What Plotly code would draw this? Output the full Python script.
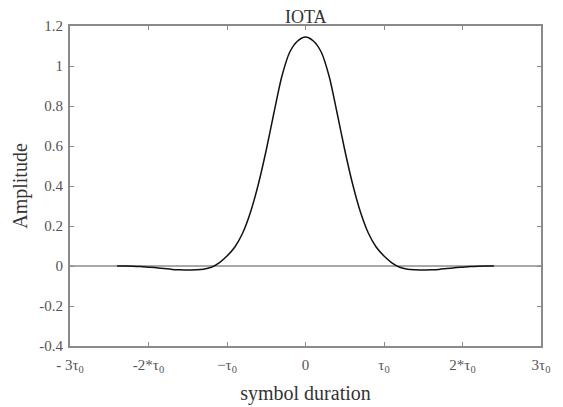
import plotly.graph_objects as go

# time in units of tau_0, amplitude (symmetric pulse)
t_right = [0.0, 0.1, 0.2, 0.3, 0.4, 0.5, 0.6, 0.7, 0.8, 0.9, 1.0, 1.1, 1.2, 1.3, 1.4, 1.5,
           1.6, 1.7, 1.8, 1.9, 2.0, 2.1, 2.2, 2.3, 2.4]
a_right = [1.145, 1.125, 1.07, 0.95, 0.77, 0.58, 0.41, 0.27, 0.165, 0.095, 0.05, 0.016, -0.006,
           -0.016, -0.019, -0.02, -0.019, -0.017, -0.013, -0.009, -0.006, -0.003, -0.001, 0.0, 0.0]

t_vals = [-v for v in t_right[:0:-1]] + t_right
a_vals = a_right[:0:-1] + a_right

x_tickvals = [-3, -2, -1, 0, 1, 2, 3]
x_ticktext = ["- 3τ<sub>0</sub>", "-2*τ<sub>0</sub>", "−τ<sub>0</sub>", "0",
              "τ<sub>0</sub>", "2*τ<sub>0</sub>", "3τ<sub>0</sub>"]
y_tickvals = [-0.4, -0.2, 0, 0.2, 0.4, 0.6, 0.8, 1, 1.2]
y_ticktext = ["-0.4", "-0.2", "0", "0.2", "0.4", "0.6", "0.8", "1", "1.2"]

SERIF = "Liberation Serif"

fig = go.Figure()
fig.add_trace(go.Scatter(x=t_vals, y=a_vals, mode="lines",
                         line=dict(color="#111111", width=1.5, shape="spline", smoothing=0.8),
                         showlegend=False))

axis_common = dict(showline=True, linecolor="#8a8a8a", linewidth=2, mirror="ticks",
                   ticks="inside", ticklen=4, tickcolor="#8a8a8a", tickwidth=1,
                   showgrid=False, automargin=False,
                   tickfont=dict(family=SERIF, size=15, color="#555555"))

fig.add_annotation(text="IOTA", xref="paper", yref="paper", x=0.5, y=1,
                   xanchor="center", yanchor="bottom", yshift=-3, showarrow=False,
                   font=dict(family=SERIF, size=18, color="#333333"))

fig.update_layout(
    width=555, height=399,
    margin=dict(l=62, r=22, t=18, b=61),
    paper_bgcolor="white", plot_bgcolor="white",
    xaxis=dict(range=[-3, 3], tickvals=x_tickvals, ticktext=x_ticktext,
               zeroline=False, ticklabelstandoff=4,
               title=dict(text="symbol duration", standoff=12,
                          font=dict(family=SERIF, size=20, color="#333333")),
               **axis_common),
    yaxis=dict(range=[-0.4, 1.2], tickvals=y_tickvals, ticktext=y_ticktext,
               zeroline=True, zerolinecolor="#a8a8a8", zerolinewidth=2,
               ticklabelstandoff=2,
               title=dict(text="Amplitude", standoff=6,
                          font=dict(family=SERIF, size=20, color="#333333")),
               **axis_common),
)

fig.write_html("out.html")
